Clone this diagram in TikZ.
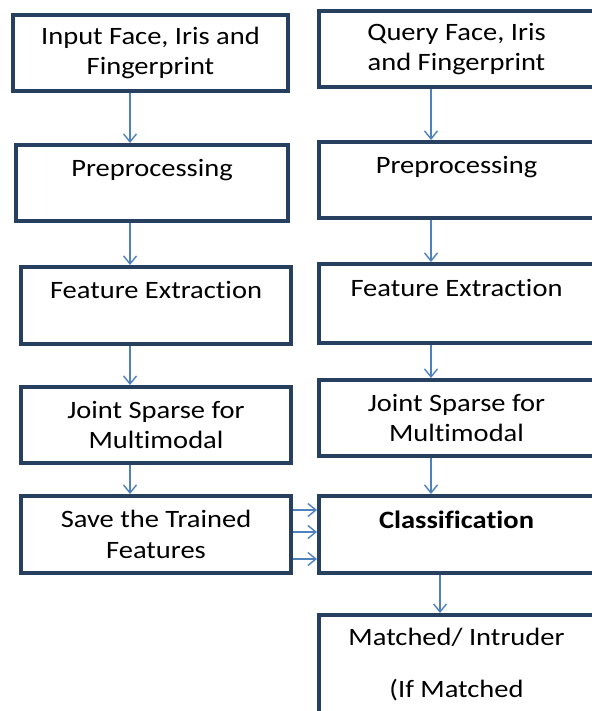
\documentclass[tikz,border=0pt]{standalone}
\usepackage{fontspec}
\setmainfont{Carlito}[FakeStretch=1.14, Ligatures=NoCommon]
\usepackage{xcolor}
\usepackage{tikz}
\usetikzlibrary{arrows.meta, positioning}
\definecolor{boxnavy}{HTML}{27405F}
\definecolor{flowblue}{HTML}{4F81BD}

\begin{document}
\begin{tikzpicture}[x=1pt, y=-1pt,
  stage/.style={rectangle, draw=boxnavy, line width=4pt, minimum width=275pt, minimum height=76pt, inner sep=0pt, align=center, font=\fontsize{25}{30.5}\selectfont},
  flow/.style={-{Straight Barb[length=8pt, width=13pt]}, line width=1.4pt, flowblue}]
\useasboundingbox (0,0) rectangle (591,711);
\coordinate (lx) at (130,0);
\coordinate (rx) at (431,0);
\coordinate (ox) at (440,0);

% training side
\node (inp) [stage] at (150.5,53) {Input Face, Iris and\\Fingerprint};
\node (pre1) [stage, minimum width=272pt] at (152,183) {Preprocessing\\\mbox{}};
\node (fe1) [stage, minimum width=270pt, minimum height=77pt] at (156,305.5) {Feature Extraction\\\mbox{}};
\node (js1) [stage, minimum width=270pt] at (156,425) {Joint Sparse for\\Multimodal};
\node (save) [stage, minimum width=270pt, minimum height=77pt] at (156,534.5) {Save the Trained\\Features};

% query side
\node (qry) [stage] at (456.5,49) {Query Face, Iris\\and Fingerprint};
\node (pre2) [stage] at (456.5,180) {Preprocessing\\\mbox{}};
\node (fe2) [stage, minimum height=79pt] at (456.5,303.5) {Feature Extraction\\\mbox{}};
\node (js2) [stage] at (456.5,418) {Joint Sparse for\\Multimodal};
\node (cls) [stage, minimum height=77pt] at (456.5,534.5) {\textbf{Classification}\\\mbox{}};
\node (res) [stage, minimum height=100pt] at (456.5,665) {Matched/ Intruder\\[21.5pt](If Matched};

\draw[flow] (lx |- inp.south) -- (lx |- pre1.north);
\draw[flow] (lx |- pre1.south) -- (lx |- fe1.north);
\draw[flow] (lx |- fe1.south) -- (lx |- js1.north);
\draw[flow] (lx |- js1.south) -- (lx |- save.north);

\draw[flow] (rx |- qry.south) -- (rx |- pre2.north);
\draw[flow] (rx |- pre2.south) -- (rx |- fe2.north);
\draw[flow] (rx |- fe2.south) -- (rx |- js2.north);
\draw[flow] (rx |- js2.south) -- (rx |- cls.north);
\draw[flow] (ox |- cls.south) -- (ox |- res.north);

\foreach \dy in {24.5,2.5,-24.5}
  \draw[flow] ([yshift=\dy pt]save.east) -- ([yshift=\dy pt]cls.west);
\end{tikzpicture}
\end{document}
